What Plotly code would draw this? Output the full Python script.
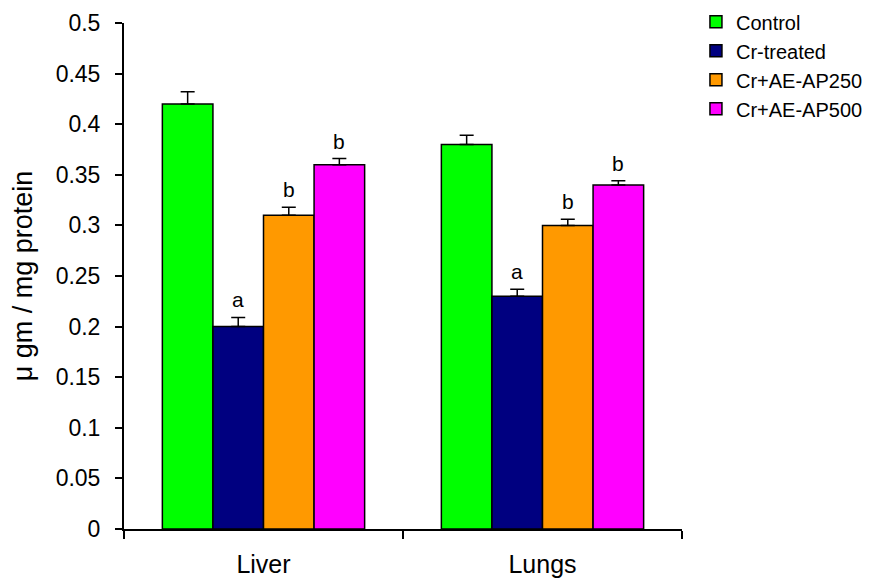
import plotly.graph_objects as go

categories = ["Liver", "Lungs"]
series_names = ["Control", "Cr-treated", "Cr+AE-AP250", "Cr+AE-AP500"]
colors = ["#00FF00", "#000080", "#FF9900", "#FF00FF"]
values = [
    [0.42, 0.38],
    [0.20, 0.23],
    [0.31, 0.30],
    [0.36, 0.34],
]
errors = [
    [0.012, 0.009],
    [0.009, 0.007],
    [0.008, 0.006],
    [0.006, 0.004],
]
letters = [
    ["", ""],
    ["a", "a"],
    ["b", "b"],
    ["b", "b"],
]
y_ticks = [0, 0.05, 0.1, 0.15, 0.2, 0.25, 0.3, 0.35, 0.4, 0.45, 0.5]
y_ticktext = ["0", "0.05", "0.1", "0.15", "0.2", "0.25", "0.3", "0.35", "0.4", "0.45", "0.5"]

FONT = "Liberation Sans, Arial, sans-serif"
bargap = 0.275

fig = go.Figure()
for i, name in enumerate(series_names):
    fig.add_trace(go.Bar(
        name=name, x=categories, y=values[i],
        marker=dict(color=colors[i], line=dict(color="black", width=1.5)),
        error_y=dict(type="data", array=errors[i], arrayminus=[0] * len(categories),
                     symmetric=False, visible=True,
                     color="black", thickness=1.5, width=7),
    ))

n = len(series_names)
bw = (1 - bargap) / n
annotations = []
for i in range(n):
    for j, cat in enumerate(categories):
        if letters[i][j]:
            xpos = j - (1 - bargap) / 2 + bw * (i + 0.5)
            annotations.append(dict(
                x=xpos, y=values[i][j] + errors[i][j], xref="x", yref="y",
                text=letters[i][j], showarrow=False, yanchor="bottom", yshift=4,
                font=dict(family=FONT, size=21, color="black"),
            ))

fig.update_layout(
    width=872, height=581,
    margin=dict(l=116, r=198, t=15, b=60, autoexpand=False),
    plot_bgcolor="white", paper_bgcolor="white",
    barmode="group", bargap=bargap, bargroupgap=0,
    font=dict(family=FONT, color="black"),
    annotations=annotations,
    legend=dict(x=1.025, y=1.041, xanchor="left", yanchor="top",
                font=dict(family=FONT, size=20, color="black"),
                tracegroupgap=0, itemwidth=30),
    xaxis=dict(
        showline=True, linecolor="black", linewidth=2,
        ticks="outside", tickson="boundaries", ticklen=8, tickwidth=1.5, tickcolor="black",
        tickfont=dict(family=FONT, size=25, color="black"), ticklabelstandoff=12,
        showgrid=False, zeroline=False,
    ),
    yaxis=dict(
        range=[0, 0.5], tickvals=y_ticks, ticktext=y_ticktext,
        showline=True, linecolor="black", linewidth=2,
        ticks="outside", ticklen=7, tickwidth=1.5, tickcolor="black",
        tickfont=dict(family=FONT, size=23, color="black"), ticklabelstandoff=10,
        showgrid=False, zeroline=False,
        title=dict(text="μ gm / mg protein", font=dict(family=FONT, size=27, color="black"), standoff=16),
    ),
)

fig.write_html("out.html")
